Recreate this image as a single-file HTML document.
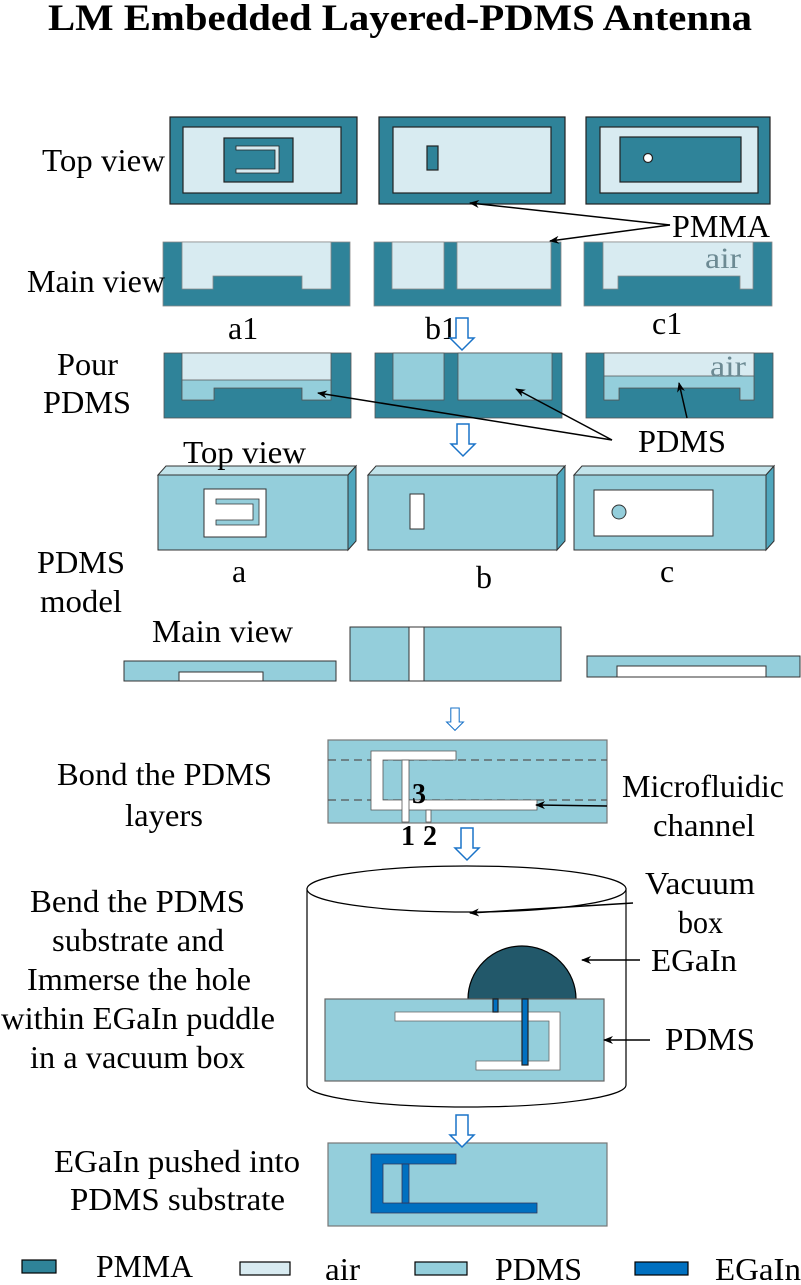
<!DOCTYPE html>
<html><head><meta charset="utf-8"><style>
html,body{margin:0;padding:0;background:#fff}
svg text{font-family:"Liberation Serif",serif;fill:#000}
</style></head><body>
<svg width="801" height="1280" viewBox="0 0 801 1280" xmlns="http://www.w3.org/2000/svg">
<defs>
<marker id="ah" markerWidth="10" markerHeight="8" refX="9" refY="4" orient="auto" markerUnits="userSpaceOnUse"><path d="M0,0 L10,4 L0,8 L3,4z" fill="#000"/></marker>
<g id="darr"><path d="M-6,0 h12 v20 h6 l-12,12 l-12,-12 h6z" fill="#fff" stroke="#1a73c8" stroke-width="1.5"/></g>
</defs>
<g stroke="#222" stroke-width="1.2">
<text x="48" y="30" font-size="37" font-weight="bold" textLength="704" lengthAdjust="spacingAndGlyphs" stroke="none">LM Embedded Layered-PDMS Antenna</text>
<rect x="170" y="117" width="187" height="87" fill="#2f8399"/>
<rect x="183" y="127" width="158" height="66" fill="#d8ebf1"/>
<rect x="224" y="138" width="69" height="44" fill="#2f8399"/>
<path d="M236,146 H279 V173 H236 V169 H275 V150 H236Z" fill="#d8ebf1" stroke-width="0.8"/>
<rect x="379" y="117" width="186" height="87" fill="#2f8399"/>
<rect x="393" y="127" width="158" height="66" fill="#d8ebf1"/>
<rect x="427" y="146" width="11" height="24" fill="#2f8399"/>
<rect x="586" y="117" width="184" height="87" fill="#2f8399"/>
<rect x="600" y="127" width="158" height="66" fill="#d8ebf1"/>
<rect x="620" y="137" width="121" height="45" fill="#2f8399"/>
<circle cx="648" cy="158" r="4.5" fill="#fff"/>
<g stroke="#888" stroke-width="0.8">
<rect x="163" y="242" width="187" height="64" fill="#2f8399"/>
<path d="M182,242 H331 V289 H302 V276 H213 V289 H182Z" fill="#d8ebf1"/>
<rect x="374" y="242" width="187" height="64" fill="#2f8399"/>
<rect x="392" y="242" width="52" height="47" fill="#d8ebf1"/>
<rect x="457" y="242" width="94" height="47" fill="#d8ebf1"/>
<rect x="584" y="242" width="188" height="64" fill="#2f8399"/>
<path d="M603,242 H753 V289 H740 V276 H618 V289 H603Z" fill="#d8ebf1"/>
</g>
<text x="705" y="268" font-size="30" textLength="36" lengthAdjust="spacingAndGlyphs" stroke="none" style="fill:#6c8a93">air</text>
<g stroke="#555" stroke-width="0.8">
<rect x="164" y="353" width="187" height="65" fill="#2f8399"/>
<path d="M182,353 H331 V400 H302 V388 H214 V400 H182Z" fill="#d8ebf1"/>
<path d="M182,380 H331 V400 H302 V388 H214 V400 H182Z" fill="#94cedb"/>
<rect x="375" y="353" width="187" height="65" fill="#2f8399"/>
<rect x="393" y="353" width="51" height="47" fill="#94cedb"/>
<rect x="458" y="353" width="94" height="47" fill="#94cedb"/>
<rect x="586" y="353" width="187" height="65" fill="#2f8399"/>
<path d="M604,353 H754 V400 H740 V388 H619 V400 H604Z" fill="#d8ebf1"/>
<path d="M604,376 H754 V400 H740 V388 H619 V400 H604Z" fill="#94cedb"/>
</g>
<text x="710" y="376" font-size="30" textLength="36" lengthAdjust="spacingAndGlyphs" stroke="none" style="fill:#6c8a93">air</text>
<g stroke="#333" stroke-width="1">
<path d="M158,475 L166,466 H356 L348,475Z" fill="#c2e3ea"/>
<path d="M348,475 L356,466 V541 L348,550Z" fill="#4fa6bd"/>
<rect x="158" y="475" width="190" height="75" fill="#94cedb"/>
<rect x="204" y="489" width="62" height="48" fill="#fff"/>
<path d="M216,499 H259 V525 H216 V520 H253 V504 H216Z" fill="#94cedb" stroke-width="0.8"/>
<path d="M368,475 L376,466 H565 L557,475Z" fill="#c2e3ea"/>
<path d="M557,475 L565,466 V541 L557,550Z" fill="#4fa6bd"/>
<rect x="368" y="475" width="189" height="75" fill="#94cedb"/>
<rect x="410" y="494" width="14" height="35" fill="#fff"/>
<path d="M574,475 L582,466 H774 L766,475Z" fill="#c2e3ea"/>
<path d="M766,475 L774,466 V541 L766,550Z" fill="#4fa6bd"/>
<rect x="574" y="475" width="192" height="75" fill="#94cedb"/>
<rect x="594" y="490" width="119" height="46" fill="#fff"/>
<circle cx="619" cy="512" r="7" fill="#94cedb"/>
<rect x="124" y="661" width="212" height="20" fill="#94cedb"/>
<rect x="179" y="672" width="84" height="9" fill="#fff"/>
<rect x="350" y="627" width="211" height="54" fill="#94cedb"/>
<rect x="409" y="627" width="15" height="54" fill="#fff"/>
<rect x="587" y="656" width="213" height="21" fill="#94cedb"/>
<rect x="617" y="666" width="149" height="11" fill="#fff"/>
</g>
<rect x="328" y="740" width="279" height="83" fill="#94cedb" stroke="#777"/>
<line x1="328" y1="760" x2="607" y2="760" stroke="#555" stroke-dasharray="8,5"/>
<line x1="328" y1="800" x2="607" y2="800" stroke="#555" stroke-dasharray="8,5"/>
<path d="M371,751 H456 V760 H383 V800 H537 V810 H371Z" fill="#fff" stroke="#555" stroke-width="0.8"/>
<rect x="402" y="760" width="7" height="62" fill="#fff" stroke="#555" stroke-width="0.8"/>
<rect x="426" y="810" width="5" height="12" fill="#fff" stroke="#555" stroke-width="0.8"/>
<g stroke="none" font-size="28" font-weight="bold">
<text x="412" y="803">3</text>
<text x="401" y="845">1</text>
<text x="423" y="845">2</text>
</g>
<path d="M307,888 V1085 A159.5,22 0 0 0 626,1085 V888" fill="#fff" stroke="#000" stroke-width="1.2"/>
<ellipse cx="466.5" cy="889" rx="159.5" ry="23" fill="#fff" stroke="#000" stroke-width="1.2"/>
<path d="M468,999 A54,53 0 0 1 576,999Z" fill="#22586a" stroke="#000"/>
<rect x="325" y="999" width="279" height="82" fill="#94cedb" stroke="#666"/>
<path d="M395,1012 H560 V1070 H476 V1061 H549 V1021 H395Z" fill="#fff" stroke="#666" stroke-width="0.8"/>
<rect x="493" y="999" width="5" height="13" fill="#0070c0"/>
<rect x="522" y="999" width="6" height="66" fill="#0070c0"/>
<rect x="328" y="1143" width="279" height="83" fill="#94cedb" stroke="#777"/>
<path d="M371,1154 H456 V1164 H383 V1203 H537 V1213 H371Z" fill="#0070c0" stroke="#335" stroke-width="0.8"/>
<rect x="402" y="1164" width="7" height="39" fill="#0070c0" stroke="#335" stroke-width="0.8"/>
<rect x="22" y="1260" width="34" height="13" fill="#2f8399" stroke="#000"/>
<rect x="240" y="1262" width="50" height="13" fill="#d8ebf1" stroke="#000"/>
<rect x="415" y="1262" width="52" height="13" fill="#94cedb" stroke="#000"/>
<rect x="635" y="1262" width="53" height="13" fill="#0070c0" stroke="#000"/>
<g stroke="none" font-size="32">
<text x="42" y="171" textLength="123" lengthAdjust="spacingAndGlyphs">Top view</text>
<text x="27" y="292" textLength="138" lengthAdjust="spacingAndGlyphs">Main view</text>
<text x="57" y="375" textLength="61" lengthAdjust="spacingAndGlyphs">Pour</text>
<text x="43" y="413" textLength="88" lengthAdjust="spacingAndGlyphs">PDMS</text>
<text x="183" y="463" textLength="123" lengthAdjust="spacingAndGlyphs">Top view</text>
<text x="37" y="573" textLength="88" lengthAdjust="spacingAndGlyphs">PDMS</text>
<text x="40" y="612" textLength="82" lengthAdjust="spacingAndGlyphs">model</text>
<text x="152" y="642" textLength="141" lengthAdjust="spacingAndGlyphs">Main view</text>
<text x="57" y="785" textLength="215" lengthAdjust="spacingAndGlyphs">Bond the PDMS</text>
<text x="125" y="826" textLength="78" lengthAdjust="spacingAndGlyphs">layers</text>
<text x="622" y="797" textLength="162" lengthAdjust="spacingAndGlyphs">Microfluidic</text>
<text x="653" y="836" textLength="102" lengthAdjust="spacingAndGlyphs">channel</text>
<text x="645" y="894" textLength="110" lengthAdjust="spacingAndGlyphs">Vacuum</text>
<text x="678" y="933" textLength="45" lengthAdjust="spacingAndGlyphs">box</text>
<text x="651" y="971" textLength="86" lengthAdjust="spacingAndGlyphs">EGaIn</text>
<text x="665" y="1050" textLength="90" lengthAdjust="spacingAndGlyphs">PDMS</text>
<text x="30" y="912" textLength="215" lengthAdjust="spacingAndGlyphs">Bend the PDMS</text>
<text x="52" y="951" textLength="172" lengthAdjust="spacingAndGlyphs">substrate and</text>
<text x="27" y="990" textLength="224" lengthAdjust="spacingAndGlyphs">Immerse the hole</text>
<text x="1" y="1029" textLength="274" lengthAdjust="spacingAndGlyphs">within EGaIn puddle</text>
<text x="30" y="1068" textLength="215" lengthAdjust="spacingAndGlyphs">in a vacuum box</text>
<text x="54" y="1172" textLength="246" lengthAdjust="spacingAndGlyphs">EGaIn pushed into</text>
<text x="70" y="1210" textLength="215" lengthAdjust="spacingAndGlyphs">PDMS substrate</text>
<text x="672" y="237" textLength="98" lengthAdjust="spacingAndGlyphs">PMMA</text>
<text x="638" y="452" textLength="88" lengthAdjust="spacingAndGlyphs">PDMS</text>
<text x="228" y="339">a1</text>
<text x="425" y="339">b1</text>
<text x="652" y="334">c1</text>
<text x="232" y="582">a</text>
<text x="476" y="588">b</text>
<text x="660" y="582">c</text>
<text x="96" y="1277" textLength="97" lengthAdjust="spacingAndGlyphs">PMMA</text>
<text x="325" y="1280" textLength="35" lengthAdjust="spacingAndGlyphs">air</text>
<text x="495" y="1280" textLength="87" lengthAdjust="spacingAndGlyphs">PDMS</text>
<text x="715" y="1280" textLength="86" lengthAdjust="spacingAndGlyphs">EGaIn</text>
</g>
<use href="#darr" x="462" y="318"/>
<use href="#darr" x="463" y="424"/>
<use href="#darr" transform="translate(455,708) scale(0.7)"/>
<use href="#darr" x="467" y="828"/>
<use href="#darr" x="462" y="1115"/>
<g stroke="#000" stroke-width="1.5" fill="none">
<line x1="670" y1="225" x2="470" y2="203" marker-end="url(#ah)"/>
<line x1="670" y1="225" x2="550" y2="241" marker-end="url(#ah)"/>
<line x1="612" y1="440" x2="318" y2="393" marker-end="url(#ah)"/>
<line x1="612" y1="440" x2="516" y2="389" marker-end="url(#ah)"/>
<line x1="687" y1="418" x2="679" y2="383" marker-end="url(#ah)"/>
<line x1="607" y1="806" x2="536" y2="805" marker-end="url(#ah)"/>
<line x1="633" y1="903" x2="470" y2="913" marker-end="url(#ah)"/>
<line x1="640" y1="960" x2="582" y2="960" marker-end="url(#ah)"/>
<line x1="650" y1="1040" x2="604" y2="1040" marker-end="url(#ah)"/>
</g>
</g>
</svg>
</body></html>
